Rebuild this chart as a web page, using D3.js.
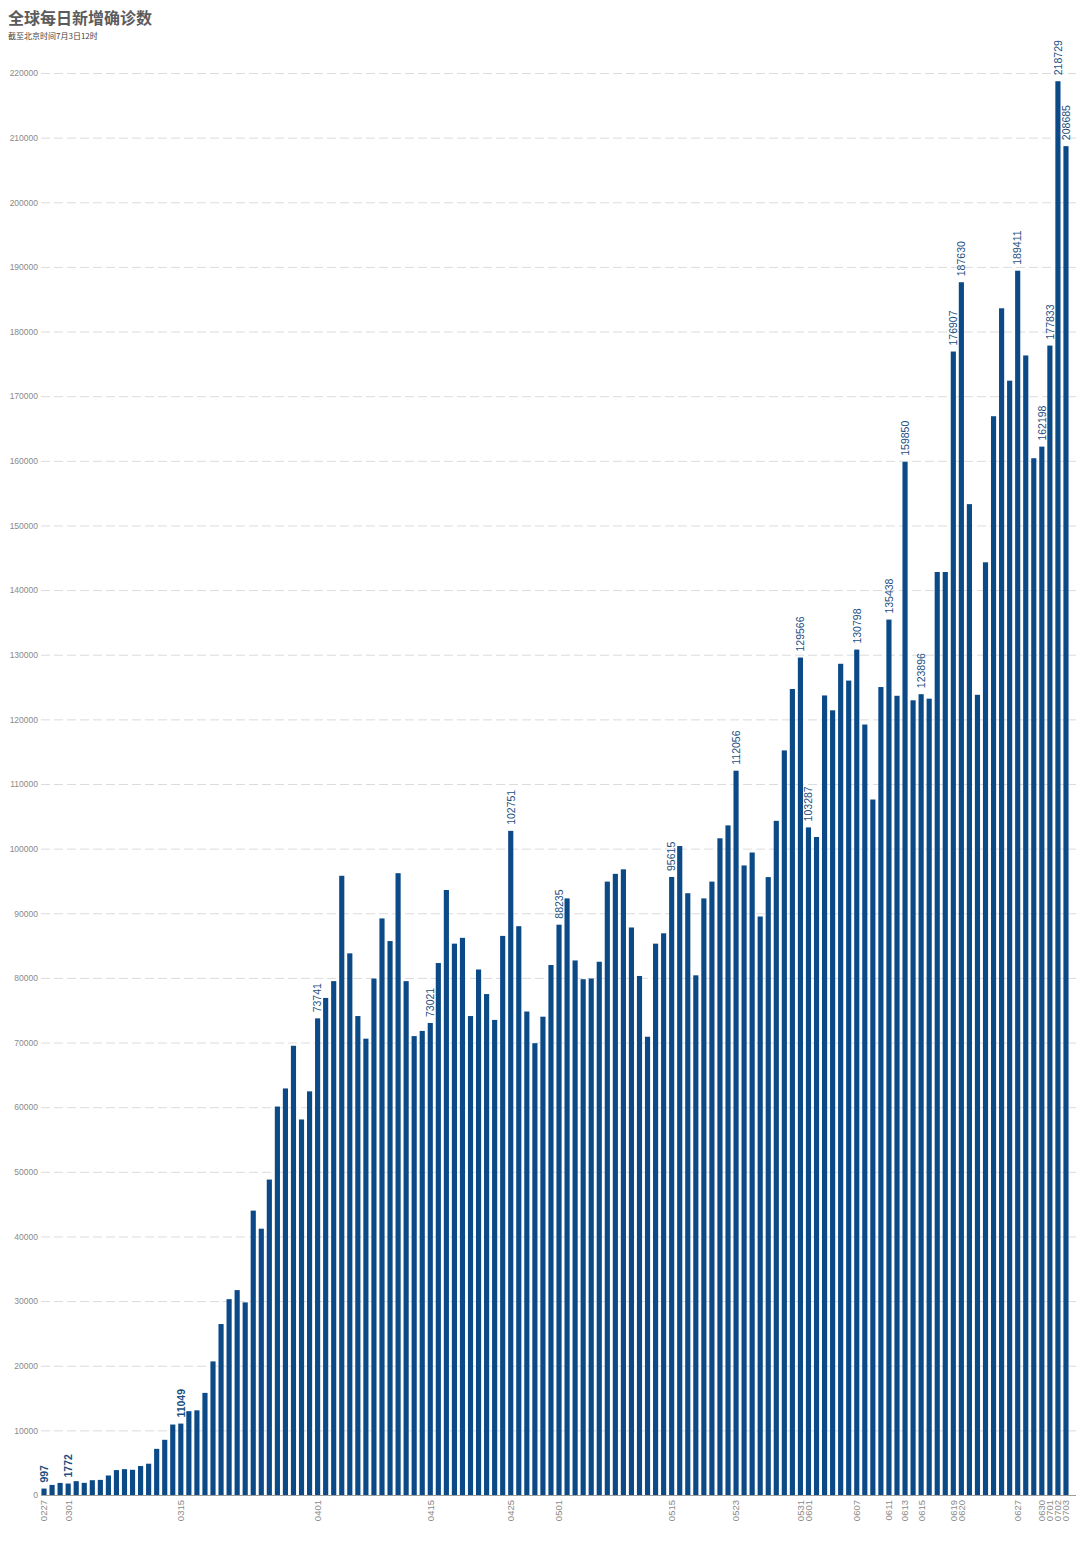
<!DOCTYPE html>
<html>
<head>
<meta charset="utf-8">
<script src="https://cdn.jsdelivr.net/npm/d3@7"></script>
<style>
  html, body { margin: 0; padding: 0; background: #fff; }
  svg { display: block; font-family: "Liberation Sans", Arial, "Noto Sans CJK SC", sans-serif; }
</style>
</head>
<body>
<svg id="chart" width="1080" height="1541"></svg>
<script>
// ---- data ----
const dates = [
  "0227","0228","0229",
  "0301","0302","0303","0304","0305","0306","0307","0308","0309","0310",
  "0311","0312","0313","0314","0315","0316","0317","0318","0319","0320",
  "0321","0322","0323","0324","0325","0326","0327","0328","0329","0330","0331",
  "0401","0402","0403","0404","0405","0406","0407","0408","0409","0410",
  "0411","0412","0413","0414","0415","0416","0417","0418","0419","0420",
  "0421","0422","0423","0424","0425","0426","0427","0428","0429","0430",
  "0501","0502","0503","0504","0505","0506","0507","0508","0509","0510",
  "0511","0512","0513","0514","0515","0516","0517","0518","0519","0520",
  "0521","0522","0523","0524","0525","0526","0527","0528","0529","0530","0531",
  "0601","0602","0603","0604","0605","0606","0607","0608","0609","0610",
  "0611","0612","0613","0614","0615","0616","0617","0618","0619","0620",
  "0621","0622","0623","0624","0625","0626","0627","0628","0629","0630",
  "0701","0702","0703"
];
const newCases = [
  997, 1560, 1870,
  1772, 2140, 1880, 2290, 2340, 3020, 3850, 4000, 3900, 4480,
  4840, 7140, 8540, 10900, 11049, 12970, 13100, 15800, 20670, 26450,
  30300, 31700, 29800, 44000, 41200, 48800, 60100, 62900, 69500, 58100, 62450,
  73741, 76900, 79500, 95800, 83800, 74100, 70600, 79900, 89200, 85700,
  96200, 79500, 71000, 71800, 73021, 82300, 93600, 85300, 86200, 74100,
  81300, 77500, 73500, 86500, 102751, 88000, 74800, 69900, 74000, 82000,
  88235, 92300, 82700, 79800, 79900, 82500, 94900, 96100, 96800, 87800,
  80300, 70900, 85300, 86900, 95615, 100400, 93100, 80400, 92300, 94900,
  101600, 103600, 112056, 97400, 99400, 89500, 95600, 104300, 115200, 124700, 129566,
  103287, 101800, 123700, 121400, 128600, 126000, 130798, 119200, 107600, 125000,
  135438, 123650, 159850, 122950, 123896, 123200, 142800, 142800, 176907, 187630,
  153300, 123800, 144300, 166900, 183600, 172400, 189411, 176300, 160400, 162198,
  177833, 218729, 208685
];
// dates that carry a value label and an x-axis tick label
const labelledDates = ["0227","0301","0315","0401","0415","0425","0501","0515","0523",
  "0531","0601","0607","0611","0613","0615","0619","0620","0627","0630","0701","0702","0703"];
const yTicks = d3.range(0, 220001, 10000);
const titleText = "全球每日新增确诊数";
const subtitleText = "截至北京时间7月3日12时";

// ---- layout ----
const svg = d3.select("#chart");
const x0 = 40, x1 = 1070, yTop = 73, yBase = 1495;
const data = dates.map((d, i) => ({ date: d, value: newCases[i] }));

const x = d3.scaleBand().domain(dates).range([x0, x1]).paddingInner(0.36).paddingOuter(0.18);
const y = d3.scaleLinear().domain([0, 220000]).range([yBase, yTop]);

// title
svg.append("text").attr("x", 8).attr("y", 24)
  .attr("font-size", 16).attr("font-weight", "bold").attr("fill", "#5b5b5b")
  .style("font-family", "'Noto Sans CJK SC', sans-serif")
  .text(titleText);
svg.append("text").attr("x", 8).attr("y", 39)
  .attr("font-size", 8).attr("fill", "#444")
  .style("font-family", "'Noto Sans CJK SC', sans-serif")
  .text(subtitleText);

// y grid + labels
const yAxis = d3.axisLeft(y).tickValues(yTicks).tickSize(-(1076 - 41)).tickFormat(d3.format("d"));
const gy = svg.append("g").attr("transform", "translate(41,0)").call(yAxis);
gy.select(".domain").remove();
gy.selectAll(".tick line")
  .attr("stroke", d => d === 0 ? "#9a9a9a" : "#dcdcdc")
  .attr("stroke-dasharray", d => d === 0 ? null : "9,4");
gy.selectAll(".tick text")
  .attr("x", -3).attr("fill", "#8a8a8a").attr("font-size", 8.5)
  .style("font-family", "'Liberation Sans', Arial, sans-serif");

// bars
svg.append("g").selectAll("rect").data(data).join("rect")
  .attr("x", d => x(d.date))
  .attr("width", x.bandwidth())
  .attr("y", d => y(d.value))
  .attr("height", d => yBase - y(d.value))
  .attr("fill", "#0b4a86");

// baseline
svg.append("line").attr("x1", 41).attr("x2", 1074).attr("y1", yBase + 0.5).attr("y2", yBase + 0.5)
  .attr("stroke", "#a0a0a0");

// value labels
const lab = data.filter(d => labelledDates.includes(d.date));
svg.append("g").selectAll("text").data(lab).join("text")
  .attr("transform", d => `translate(${x(d.date) + x.bandwidth() / 2},${y(d.value) - 6}) rotate(-90)`)
  .attr("dy", "0.36em")
  .attr("font-size", 10.5)
  .attr("fill", "#1b4f82")
  .attr("font-weight", d => d.value < 20000 ? "bold" : "normal")
  .text(d => d.value);

// x-axis labels
const xAxis = d3.axisBottom(x).tickValues(labelledDates).tickSize(0);
const gx = svg.append("g").attr("transform", `translate(0,${yBase})`).call(xAxis);
gx.select(".domain").remove();
gx.selectAll(".tick text")
  .attr("transform", "rotate(-90)")
  .attr("text-anchor", "end")
  .attr("x", -5).attr("y", 0).attr("dy", "0.36em")
  .attr("fill", "#8a8a8a").attr("font-size", 9.5)
  .style("font-family", "'Liberation Sans', Arial, sans-serif");
</script>
</body>
</html>
